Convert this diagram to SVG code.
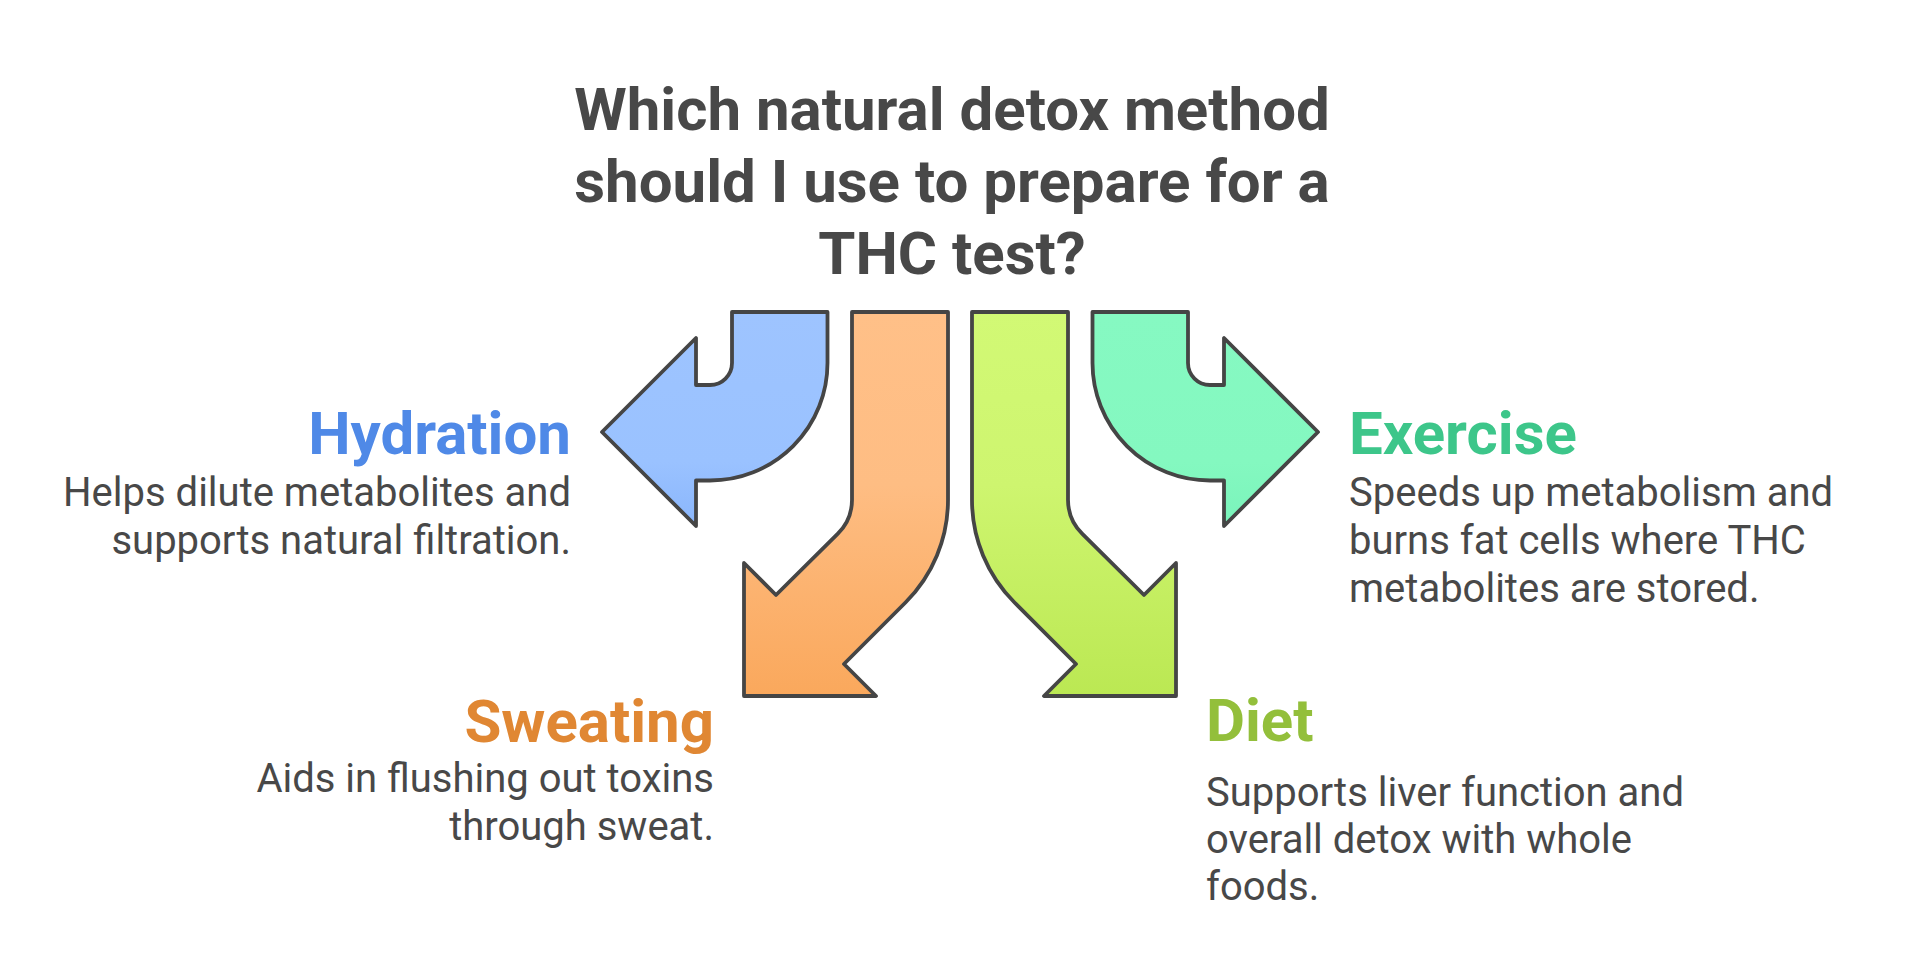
<svg xmlns="http://www.w3.org/2000/svg" width="1920" height="964" viewBox="0 0 1920 964">
  <style>
    .title { font-family: Roboto, "Liberation Sans", sans-serif; font-weight: 700; font-size: 60px; fill: #484848; }
    .head { font-family: Roboto, "Liberation Sans", sans-serif; font-weight: 700; font-size: 60px; }
    .desc { font-family: Roboto, "Liberation Sans", sans-serif; font-weight: 400; font-size: 40px; fill: #484848; }
    .arrow { stroke: #454545; stroke-width: 3.8; stroke-linejoin: round; }
  </style>
  <defs>
    <linearGradient id="gBlue" gradientUnits="userSpaceOnUse" x1="0" y1="312" x2="0" y2="526">
      <stop offset="0" stop-color="#9EC4FF"/>
      <stop offset="0.7" stop-color="#9AC2FF"/>
      <stop offset="1" stop-color="#8AB6FC"/>
    </linearGradient>
    <linearGradient id="gOrange" gradientUnits="userSpaceOnUse" x1="0" y1="312" x2="0" y2="696">
      <stop offset="0" stop-color="#FFC088"/>
      <stop offset="0.45" stop-color="#FEBD83"/>
      <stop offset="1" stop-color="#FAA85C"/>
    </linearGradient>
    <linearGradient id="gLime" gradientUnits="userSpaceOnUse" x1="0" y1="312" x2="0" y2="696">
      <stop offset="0" stop-color="#D2F975"/>
      <stop offset="0.45" stop-color="#CEF56F"/>
      <stop offset="1" stop-color="#BBE853"/>
    </linearGradient>
    <linearGradient id="gTeal" gradientUnits="userSpaceOnUse" x1="0" y1="312" x2="0" y2="526">
      <stop offset="0" stop-color="#86F9C2"/>
      <stop offset="0.7" stop-color="#84F8C0"/>
      <stop offset="1" stop-color="#7AF4BB"/>
    </linearGradient>
  </defs>

  <g id="title">
    <text class="title" text-anchor="middle" x="952" y="130">Which natural detox method</text>
    <text class="title" text-anchor="middle" x="952" y="202">should I use to prepare for a</text>
    <text class="title" text-anchor="middle" x="952" y="274">THC test?</text>
  </g>

  <g id="connectors">
    <path id="arrow-hydration" class="arrow" fill="url(#gBlue)" d="M 732 312 L 827.5 312 L 827.5 363 A 117.5 117.5 0 0 1 710 480.5 L 696 480.5 L 696 526 L 602 432 L 696 338 L 696 385 L 710 385 A 22 22 0 0 0 732 363 Z"/>
    <path id="arrow-sweating" class="arrow" fill="url(#gOrange)" d="M 852 312 L 948 312 L 948 500 A 145 145 0 0 1 905.5 602.5 L 844 664 L 876 696 L 744 696 L 744 563 L 776 595 L 837.65 533.94 A 48 48 0 0 0 852 500 Z"/>
    <path id="arrow-diet" class="arrow" fill="url(#gLime)" transform="matrix(-1 0 0 1 1920 0)" d="M 852 312 L 948 312 L 948 500 A 145 145 0 0 1 905.5 602.5 L 844 664 L 876 696 L 744 696 L 744 563 L 776 595 L 837.65 533.94 A 48 48 0 0 0 852 500 Z"/>
    <path id="arrow-exercise" class="arrow" fill="url(#gTeal)" transform="matrix(-1 0 0 1 1920 0)" d="M 732 312 L 827.5 312 L 827.5 363 A 117.5 117.5 0 0 1 710 480.5 L 696 480.5 L 696 526 L 602 432 L 696 338 L 696 385 L 710 385 A 22 22 0 0 0 732 363 Z"/>
  </g>

  <g id="node-hydration">
    <text class="head" fill="#4F89E7" text-anchor="end" x="571" y="454">Hydration</text>
    <text class="desc" text-anchor="end" x="571" y="506">Helps dilute metabolites and</text>
    <text class="desc" text-anchor="end" x="571" y="554">supports natural filtration.</text>
  </g>

  <g id="node-sweating">
    <text class="head" fill="#E08733" text-anchor="end" x="714" y="742">Sweating</text>
    <text class="desc" text-anchor="end" x="714" y="792">Aids in flushing out toxins</text>
    <text class="desc" text-anchor="end" x="714" y="840">through sweat.</text>
  </g>

  <g id="node-exercise">
    <text class="head" fill="#3DC68A" x="1349" y="454">Exercise</text>
    <text class="desc" x="1349" y="506">Speeds up metabolism and</text>
    <text class="desc" x="1349" y="554">burns fat cells where THC</text>
    <text class="desc" x="1349" y="602">metabolites are stored.</text>
  </g>

  <g id="node-diet">
    <text class="head" fill="#93BF3B" x="1206" y="741">Diet</text>
    <text class="desc" x="1206" y="806">Supports liver function and</text>
    <text class="desc" x="1206" y="853">overall detox with whole</text>
    <text class="desc" x="1206" y="900">foods.</text>
  </g>
</svg>
